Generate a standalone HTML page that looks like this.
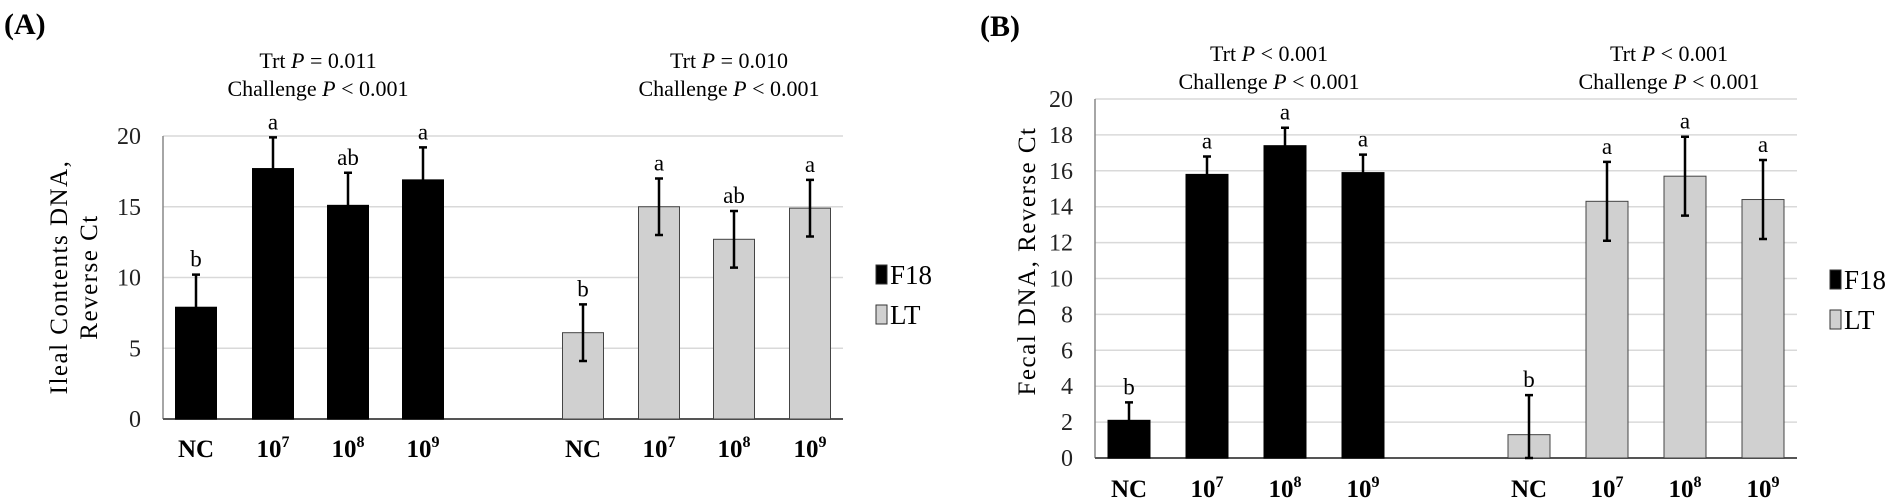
<!DOCTYPE html>
<html><head><meta charset="utf-8"><style>
body{margin:0;background:#fff;}
svg{display:block;font-family:"Liberation Serif",serif;}
</style></head><body>
<svg id="c" width="1902" height="502"></svg>
<script>
const categories=["NC","7","8","9"];
const aF18=[7.9,17.7,15.1,16.9];
const aF18Err=[2.3,2.2,2.3,2.3];
const aLT=[6.1,15.0,12.7,14.9];
const aLTErr=[2.0,2.0,2.0,2.0];
const aF18Let=["b","a","ab","a"];
const aLTLet=["b","a","ab","a"];
const bF18=[2.1,15.8,17.4,15.9];
const bF18Err=[1.0,1.0,1.0,1.0];
const bLT=[1.3,14.3,15.7,14.4];
const bLTErr=[2.2,2.2,2.2,2.2];
const bF18Let=["b","a","a","a"];
const bLTLet=["b","a","a","a"];
const aTicks=[0,5,10,15,20];
const bTicks=[0,2,4,6,8,10,12,14,16,18,20];

const svg=document.getElementById('c');
const NS="http://www.w3.org/2000/svg";
function mk(tag,at,txt){const e=document.createElementNS(NS,tag);for(const k in at)e.setAttribute(k,at[k]);if(txt!==undefined)e.textContent=txt;svg.appendChild(e);return e;}

function panel(o){
  const y=v=>o.y0-(v/o.max)*(o.y0-o.yTop);
  o.ticks.forEach(t=>{
    if(t>0){const g=mk('line',{x1:o.x0,x2:o.x1,y1:y(t),y2:y(t),stroke:'#d9d9d9','stroke-width':1.5});
    
    }
    const l=mk('text',{x:o.x0-22,y:y(t)+8,'text-anchor':'end','font-size':24,fill:'#222'},t);
    
    
  });
  const ax=mk('line',{x1:o.x0,x2:o.x0,y1:o.yTop,y2:o.y0,stroke:'#888','stroke-width':1.5});
  
  
  const bx=mk('line',{x1:o.x0,x2:o.x1,y1:o.y0,y2:o.y0,stroke:'#555','stroke-width':2});
  
  
  [[o.f18,o.f18e,o.f18l,o.cx1,'#000'],[o.lt,o.lte,o.ltl,o.cx2,'#d0d0d0']].forEach(([vals,errs,lets,cxs,col])=>{
    vals.forEach((v,i)=>{
      const cx=cxs[i],w=o.bw;
      const r=mk('rect',{x:cx-w/2,y:y(v),width:w,height:o.y0-y(v),fill:col,stroke:col==='#000'?'#000':'#444','stroke-width':1});
      
      
      const hi=v+errs[i],lo=Math.max(0,v-errs[i]);
      const e=mk('path',{d:`M${cx},${y(lo)}V${y(hi)}M${cx-4},${y(hi)}H${cx+4}M${cx-4},${y(lo)}H${cx+4}`,stroke:'#000','stroke-width':2.5,fill:'none'});
      
      
      const t=mk('text',{x:cx,y:y(hi)-8,'text-anchor':'middle','font-size':23},lets[i]);
      
      
      const lab=mk('text',{x:cx,y:o.labY,'text-anchor':'middle','font-size':25,'font-weight':'bold'});
      if(categories[i]==="NC")lab.textContent="NC";
      else{lab.textContent="10";const s=document.createElementNS(NS,'tspan');s.setAttribute('font-size',16);s.setAttribute('dy',-10);s.textContent=categories[i];lab.appendChild(s);}
      
      
    });
  });
  [[o.ann1x,o.ann[0]],[o.ann2x,o.ann[1]]].forEach(([x,p])=>{
    const t1=mk('text',{x:x,y:o.annY,'text-anchor':'middle','font-size':22});
    t1.innerHTML='Trt <tspan font-style="italic">P</tspan> '+p;
    
    
    const t2=mk('text',{x:x,y:o.annY+28,'text-anchor':'middle','font-size':22});
    t2.innerHTML='Challenge <tspan font-style="italic">P</tspan> &lt; 0.001';
    
    
  });
  [['F18','#000',o.legY],['LT','#d0d0d0',o.legY+40]].forEach(([n,c,ly])=>{
    const r=mk('rect',{x:o.legX,y:ly-17,width:11,height:19,fill:c,stroke:'#333','stroke-width':1});
    
    
    const t=mk('text',{x:o.legX+14,y:ly+2,'font-size':27},n);
    
    
  });
}
panel({x0:163,x1:843,y0:419,yTop:136,max:20,ticks:aTicks,bw:41,
  f18:aF18,f18e:aF18Err,f18l:aF18Let,lt:aLT,lte:aLTErr,ltl:aLTLet,
  cx1:[196,273,348,423],cx2:[583,659,734,810],labY:457,
  ann1x:318,ann2x:729,ann:["= 0.011","= 0.010"],annY:68,legX:876,legY:282});
panel({x0:1095,x1:1797,y0:458,yTop:99,max:20,ticks:bTicks,bw:42,
  f18:bF18,f18e:bF18Err,f18l:bF18Let,lt:bLT,lte:bLTErr,ltl:bLTLet,
  cx1:[1129,1207,1285,1363],cx2:[1529,1607,1685,1763],labY:497,
  ann1x:1269,ann2x:1669,ann:["< 0.001","< 0.001"],annY:61,legX:1830,legY:287});
let t;
t=mk('text',{x:4,y:34,'font-size':30,'font-weight':'bold'},'(A)');


t=mk('text',{x:980,y:36,'font-size':30,'font-weight':'bold'},'(B)');


t=mk('text',{transform:'translate(67,277) rotate(-90)','text-anchor':'middle','font-size':25,'letter-spacing':1.5},'Ileal Contents DNA,');


t=mk('text',{transform:'translate(97,277) rotate(-90)','text-anchor':'middle','font-size':25,'letter-spacing':1.5},'Reverse Ct');


t=mk('text',{transform:'translate(1035,261) rotate(-90)','text-anchor':'middle','font-size':25,'letter-spacing':1.5},'Fecal DNA, Reverse Ct');


</script>
</body></html>
